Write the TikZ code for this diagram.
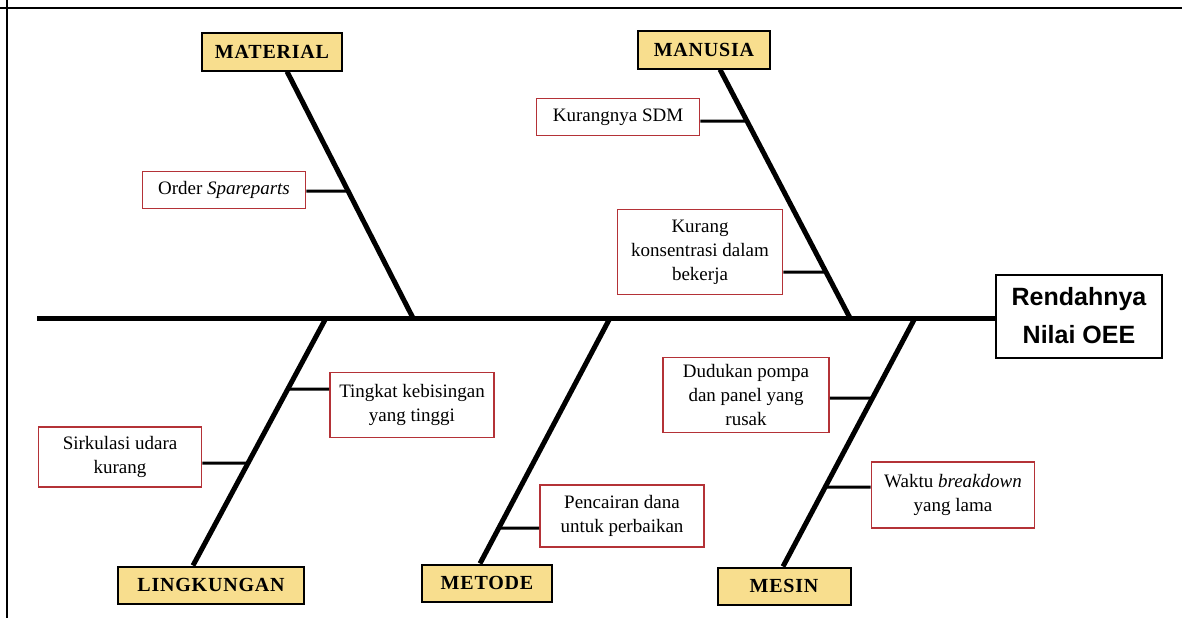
\documentclass[tikz,border=0pt]{standalone}
\usepackage{fontspec}
\setmainfont{Liberation Serif}
\newfontfamily\catfont[LetterSpace=4]{Liberation Serif}
\newfontfamily\headfont{Liberation Sans}
\usetikzlibrary{calc}

\definecolor{catyellow}{RGB}{248,222,142}
\definecolor{causered}{RGB}{180,50,55}

\tikzset{
	catbox/.style={draw=black, line width=2pt, fill=catyellow, minimum height=37pt, inner sep=0pt, font=\catfont\bfseries\fontsize{20}{22}\selectfont},
	causebox/.style={draw=causered, line width=1.8pt, fill=white, align=center, inner sep=0pt, font=\fontsize{19}{24}\selectfont},
	effectbox/.style={draw=black, line width=2pt, fill=white, align=center, minimum width=166pt, minimum height=83pt, inner sep=0pt, font=\headfont\bfseries\fontsize{25}{38}\selectfont},
	bone/.style={line width=5pt},
	twig/.style={line width=3pt}
}

\begin{document}
\begin{tikzpicture}[x=1pt,y=-1pt]

	\useasboundingbox (0,0) rectangle (1182,618);
	\draw [line width=2pt] (0,8) -- (1182,8);
	\draw [line width=2pt] (7,0) -- (7,618);

	% kepala dan tulang utama
	\node[effectbox] (oee) at (1079,316) {Rendahnya\\Nilai OEE};
	\coordinate (tail) at (37,318);
	\draw [bone] (tail) -- (tail -| oee.west);

	% kategori
	\node[catbox, minimum width=140pt] (mat) at (272,52) {MATERIAL};
	\node[catbox, minimum width=132pt] (man) at (704,50) {MANUSIA};
	\node[catbox, minimum width=186pt] (lin) at (211,585) {LINGKUNGAN};
	\node[catbox, minimum width=130pt] (met) at (487,583) {METODE};
	\node[catbox, minimum width=133pt] (mes) at (784,586) {MESIN};

	\coordinate (tMat) at ($(mat.south)+(15,0)$);
	\coordinate (tMan) at ($(man.south)+(16,0)$);
	\coordinate (tLin) at ($(lin.north)+(-18,0)$);
	\coordinate (tMet) at ($(met.north)+(-7,0)$);
	\coordinate (tMes) at ($(mes.north)+(-1,0)$);

	\coordinate (sMat) at (413,318);
	\coordinate (sMan) at (850,318);
	\coordinate (sLin) at (326,318);
	\coordinate (sMet) at (610,318);
	\coordinate (sMes) at (915,318);

	\foreach \k in {Mat,Man,Lin,Met,Mes}
		\draw [bone] (t\k) -- (s\k);

	% sebab
	\node[causebox, minimum width=163pt, minimum height=37pt] (ord) at (224,190) {Order \textit{Spareparts}};
	\node[causebox, minimum width=163pt, minimum height=37pt] (sdm) at (618,117) {Kurangnya SDM};
	\node[causebox, minimum width=165pt, minimum height=85pt] (kon) at (700,252) {Kurang\\konsentrasi dalam\\bekerja};
	\node[causebox, minimum width=164pt, minimum height=65pt] (tin) at (412,405) {Tingkat kebisingan\\yang tinggi};
	\node[causebox, minimum width=163pt, minimum height=60pt] (sir) at (120,457) {Sirkulasi udara\\kurang};
	\node[causebox, minimum width=164pt, minimum height=62pt] (pen) at (622,516) {Pencairan dana\\untuk perbaikan};
	\node[causebox, minimum width=166pt, minimum height=75pt] (dud) at (746,395) {Dudukan pompa\\dan panel yang\\rusak};
	\node[causebox, minimum width=163pt, minimum height=66pt] (wak) at (953,495) {Waktu \textit{breakdown}\\yang lama};

	% cabang kecil
	\coordinate (ord-a) at ($(ord.east)+(0,1)$);   \coordinate (ord-b) at ($(ord.west)+(0,1)$);
	\coordinate (sdm-a) at ($(sdm.east)+(0,4)$);   \coordinate (sdm-b) at ($(sdm.west)+(0,4)$);
	\coordinate (kon-a) at ($(kon.east)+(0,20)$);  \coordinate (kon-b) at ($(kon.west)+(0,20)$);
	\coordinate (tin-a) at ($(tin.west)+(0,-16)$); \coordinate (tin-b) at ($(tin.east)+(0,-16)$);
	\coordinate (sir-a) at ($(sir.east)+(0,6)$);   \coordinate (sir-b) at ($(sir.west)+(0,6)$);
	\coordinate (pen-a) at ($(pen.west)+(0,12)$);  \coordinate (pen-b) at ($(pen.east)+(0,12)$);
	\coordinate (dud-a) at ($(dud.east)+(0,3)$);   \coordinate (dud-b) at ($(dud.west)+(0,3)$);
	\coordinate (wak-a) at ($(wak.west)+(0,-8)$);  \coordinate (wak-b) at ($(wak.east)+(0,-8)$);

	\draw [twig] (ord-a) -- (intersection of tMat--sMat and ord-a--ord-b);
	\draw [twig] (sdm-a) -- (intersection of tMan--sMan and sdm-a--sdm-b);
	\draw [twig] (kon-a) -- (intersection of tMan--sMan and kon-a--kon-b);
	\draw [twig] (tin-a) -- (intersection of tLin--sLin and tin-a--tin-b);
	\draw [twig] (sir-a) -- (intersection of tLin--sLin and sir-a--sir-b);
	\draw [twig] (pen-a) -- (intersection of tMet--sMet and pen-a--pen-b);
	\draw [twig] (dud-a) -- (intersection of tMes--sMes and dud-a--dud-b);
	\draw [twig] (wak-a) -- (intersection of tMes--sMes and wak-a--wak-b);

\end{tikzpicture}
\end{document}
